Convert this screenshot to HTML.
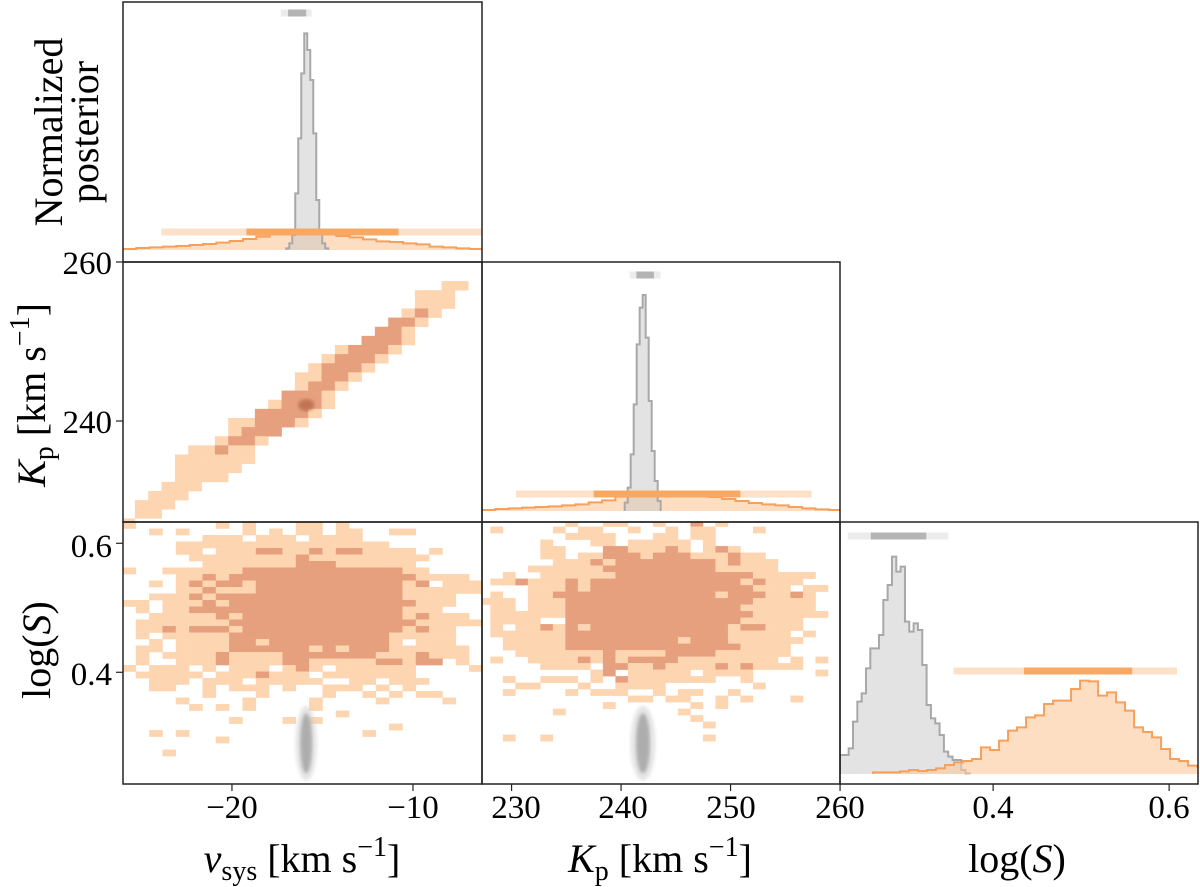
<!DOCTYPE html>
<html><head><meta charset="utf-8"><style>
html,body{margin:0;padding:0;background:#fff;}
svg{display:block;font-family:"Liberation Serif","Times New Roman","DejaVu Serif",serif;}
text,tspan{font-family:"Liberation Serif","Times New Roman","DejaVu Serif",serif !important;}
</style></head><body>
<svg id="c" width="1200" height="887" viewBox="0 0 1200 887" xmlns="http://www.w3.org/2000/svg">
<defs>
<clipPath id="cTL"><rect x="123" y="2" width="359" height="260"/></clipPath>
<clipPath id="cML"><rect x="123" y="262" width="359" height="260"/></clipPath>
<clipPath id="cMM"><rect x="482" y="262" width="358" height="260"/></clipPath>
<clipPath id="cBL"><rect x="123" y="522" width="359" height="262"/></clipPath>
<clipPath id="cBM"><rect x="482" y="522" width="358" height="262"/></clipPath>
<clipPath id="cBR"><rect x="840" y="522" width="358" height="262"/></clipPath>
<filter id="blur"><feGaussianBlur stdDeviation="1.5"/></filter>
</defs>
<g id="layers"></g>
<g font-size="33" fill="#000">
<text x="232" y="818" text-anchor="middle">−20</text>
<text x="413" y="818" text-anchor="middle">−10</text>
<text x="516" y="818" text-anchor="middle">230</text>
<text x="623" y="818" text-anchor="middle">240</text>
<text x="731" y="818" text-anchor="middle">250</text>
<text x="840" y="818" text-anchor="middle">260</text>
<text x="993" y="818" text-anchor="middle">0.4</text>
<text x="1169" y="818" text-anchor="middle">0.6</text>
<text x="112" y="274" text-anchor="end">260</text>
<text x="112" y="433" text-anchor="end">240</text>
<text x="112" y="557" text-anchor="end">0.6</text>
<text x="112" y="685" text-anchor="end">0.4</text>
</g>
<g font-size="40" fill="#000">
<text x="302" y="872" text-anchor="middle"><tspan font-style="italic">v</tspan><tspan font-size="28" dy="8">sys</tspan><tspan dy="-8"> [km s</tspan><tspan font-size="28" dy="-16">−1</tspan><tspan dy="16">]</tspan></text>
<text x="660" y="872" text-anchor="middle"><tspan font-style="italic">K</tspan><tspan font-size="28" dy="8">p</tspan><tspan dy="-8"> [km s</tspan><tspan font-size="28" dy="-16">−1</tspan><tspan dy="16">]</tspan></text>
<text x="1017" y="872" text-anchor="middle">log(<tspan font-style="italic">S</tspan>)</text>
<g transform="translate(62,132) rotate(-90)"><text x="0" y="0" text-anchor="middle">Normalized</text><text x="0" y="36" text-anchor="middle">posterior</text></g>
<text transform="translate(45,395) rotate(-90)" text-anchor="middle"><tspan font-style="italic">K</tspan><tspan font-size="28" dy="8">p</tspan><tspan dy="-8"> [km s</tspan><tspan font-size="28" dy="-16">−1</tspan><tspan dy="16">]</tspan></text>
<text transform="translate(50,650) rotate(-90)" text-anchor="middle">log(<tspan font-style="italic">S</tspan>)</text>
</g>
</svg>
<script>
// ---- data ----
const tlGrayStart = -17.0, tlGrayWidth = 0.1657;
const tlGrayCounts = [5,20,45,170,335,530,650,600,510,350,150,50,20,5];
const tlOrangeStart = -26.02, tlOrangeWidth = 0.7366;
const tlOrangeCounts = [3,6,8,10,12,15,18,22,27,33,40,55,55,57,56,54,42,38,32,26,24,20,17,10,8,5,3];
const mmGrayStart = 240.33, mmGrayWidth = 0.274;
const mmGrayCounts = [25,70,170,320,500,610,648,520,330,180,90,30];
const mmOrangeStart = 227.3, mmOrangeWidth = 1.218;
const mmOrangeCounts = [3,6,8,10,12,14,17,20,26,32,43,52,55,56,55,55,54,42,36,30,24,20,17,12,8,5,3];
const brGrayStart = 0.226, brGrayWidth = 0.00492;
const brGrayCounts = [57,57,77,157,217,242,317,377,377,417,522,567,652,607,622,457,427,452,432,327,207,167,152,117,67,52,42,42,12,2];
const brOrangeStart = 0.2635, brOrangeWidth = 0.01023;
const brOrangeCounts = [5,5,5,8,12,9,12,17,27,35,39,45,80,72,100,130,140,170,176,210,220,220,255,280,278,235,245,215,190,140,126,110,75,45,39,25,22];
// credible intervals [lo95, lo68, hi68, hi95]
const vsysGrayCI = [-17.3, -16.9, -15.9, -15.6];
const vsysOrangeCI = [-23.9, -19.2, -10.8, -5.5];
const kpGrayCI = [240.8, 241.4, 243.0, 243.6];
const kpOrangeCI = [230.4, 237.5, 250.9, 257.4];
const sGrayCI = [0.235, 0.261, 0.324, 0.349];
const sOrangeCI = [0.355, 0.435, 0.558, 0.609];
// 2D hist vsys-Kp (runs: l/d col-range)
const mlColStart = -26.1, mlColWidth = 0.7366, mlRowTop = 257.6, mlRowHeight = 1.148;
const mlRows = ["l24-25","l22-24","l22-24","l21 d22 l23","d20-21 l22","d19-20 l21","d18-20 l21","l16 d17-19 l20","l15 d16-18 l19","l14 d15-17 l18","l13-14 d15-16 l17","l13 d14-15 l16","d12-14 l15","l11 d12-14 l15","d10-13 l14","l8-9 d10-12 l13","l8 d9-11","l7 d8-9 l10","l5-6 d7 l8-9","l4-9","l4-8","l4-7","l3-5","l2-4","l1-3","l1-2","l0"];
// 2D hist vsys-logS
const blColStart = -26.05, blColWidth = 0.7366, blRowTop = 0.633, blRowHeight = 0.01008;
const blRows = [
"l......l.l...ll.l..........","..l.l....l.l.ll.ll..ll.....","......lll.lll.llll.........","....llllllllllllllll.......",
"....ll.llldd"+"lldldd"+"llll.l...",".....lllllllldlllllllll....","......llllllldddllllll.....","l..lllllldddddddddddd"+"ll....",
"....lldldddddddddddddd"+"llll.","..l.ldlddlddddddddddd"+"ld.lll","....lldlllddddddddddd"+"llllll","..llldldddddddddddddd"+"llll..",
"ll.llldldddddddddddddd"+"lll..",".l.lldddddddddddddddd"+"lll...","..llllldlddddddddddddld"+"lll.",".llllllldddddddddddddd"+"lllll.",
".lldldddlddddddddddddldll..",".l.llllldddddddddddd"+"lllll..","..l.lllldd"+"ldddddddddl.lll.",".ll.lllldddddd"+"ldlddd"+"llllll.",
".l.lllldllll"+"ddddddd"+"llldlll.",".l..llldlllldd"+"lllll"+"ddldd.l..","l.lll.l.lll.ldl.llllll....l",".lllll.llldlll.lllllll.....",
"..lll.lll.lllll..ll.lll....","..ll..l.lll.l..lll.l.l.....","......l...l....l..l.l.ll...","....l....l....l....l....l..",
".....l.l.l....l............","................l..........","........l...l.l............","....................l......",
"..l.l.............l........",".......l...................","...........................","...l......................."];
// 2D hist Kp-logS
const bmColStart = 226.92, bmColWidth = 1.142, bmRowTop = 0.636, bmRowHeight = 0.01008;
const bmRows = [
".......l..ll..l..d.l.........",".l....l.ll..l..l.ll...l......",".......llll...ll.ll..........",".....l...ll.lllll.l..........",
".....ll...ddllldl.ldl........",".....ll.lldddldddllldll......","......llldlddddddddldlll.....","....lllllldddddddddlllll.....",
"..l..lllllldddddddddddlllll..",".lldllldlddddddddddddldlll..","....llldlddddddddddddd"+"lll.ll.",".l..lldddddddddddddlddd"+"lldl..",
"lll.llldddddddddddddddlllll..",".ll.llldddddddddddddd"+"llllll..",".lllllldddddddddddddd"+"dllllll.",".llll..dddddddddddddd"+"lllll...",
".l.lldldlddddddddddd"+"lddlll...",".lllllldddddddddddddlllll.l..","..llllldddddddddlddd"+"llllll...","..llllldddddddddddddd"+"llll....",
"...llllllldlllldddd"+"llllll....",".l..lllldldlddddllllllll.l.l.",".....llll.ddlldlllldldllll...",".........ld.lllll.llll.....l.",
"..l..lll.l.dlllllll..l.......","...ll...l..llll.......l......","..l....l.lll..l.ll..l........","............ll.ll..l.l...l...",
"..........l......l.l.........","......l.........l............",".................l...........","..................l..........",
".............................","..l..l............l.........."];
// gray sample cloud centres
const graySampleVsys = -15.9, graySampleKp = 242.0, graySampleS = 0.29;

// ---- scales ----
const vs = v => 123 + (v + 26.02) * 18.1;
const kpx = k => 482 + (k - 227.3) * 10.95;
const kpy = k => 262 + (260 - k) * 7.95;
const sx = s => 840 + (s - 0.226) * 880;
const sy = s => 522 + (0.633 - s) * 645;

const NS = "http://www.w3.org/2000/svg";
const root = document.getElementById('layers');
function el(tag, attrs, parent) {
  const e = document.createElementNS(NS, tag);
  for (const k in attrs) e.setAttribute(k, attrs[k]);
  (parent || root).appendChild(e);
  return e;
}
function group(clip, name) {
  const g = el('g', {'clip-path': 'url(#' + clip + ')'});
  
  
  return g;
}
function hist(g, start, width, counts, xs, base, scale, fill, stroke, name) {
  let d = 'M' + xs(start) + ',' + base;
  counts.forEach((c, i) => {
    const x0 = xs(start + i * width), x1 = xs(start + (i + 1) * width), y = base - c * scale;
    d += ' L' + x0 + ',' + y + ' L' + x1 + ',' + y;
  });
  d += ' L' + xs(start + counts.length * width) + ',' + base;
  const f = el('path', {d: d + ' Z', fill: fill, stroke: 'none'}, g);
  
  
  const s = el('path', {d: d, fill: 'none', stroke: stroke, 'stroke-width': 2}, g);
  
  
}
function ci(g, vals, xs, y, light, dark, name) {
  const a = el('rect', {x: xs(vals[0]), y: y - 3.5, width: xs(vals[3]) - xs(vals[0]), height: 7, fill: light}, g);
  
  
  const b = el('rect', {x: xs(vals[1]), y: y - 3.5, width: xs(vals[2]) - xs(vals[1]), height: 7, fill: dark}, g);
  
  
}
const LC = '#fdd5b1', DC = '#e6a07d';
function cell(g, x0, x1, yA, yB, ch, name) {
  const r = el('rect', {x: Math.min(x0, x1), y: Math.min(yA, yB), width: Math.abs(x1 - x0) + 0.3, height: Math.abs(yB - yA) + 0.3, fill: ch === 'd' ? DC : LC}, g);
  
  
}
function gridStr(g, rows, cs, cw, rt, rh, xs, ys, name) {
  rows.forEach((row, r) => {
    for (let c = 0; c < row.length; c++) {
      const ch = row[c];
      if (ch !== 'l' && ch !== 'd') continue;
      cell(g, xs(cs + c * cw), xs(cs + (c + 1) * cw), ys(rt - r * rh), ys(rt - (r + 1) * rh), ch, name);
    }
  });
}
function gridRuns(g, rows, cs, cw, rt, rh, xs, ys, name) {
  rows.forEach((row, r) => {
    row.split(' ').forEach(seg => {
      const ch = seg[0]; const p = seg.slice(1).split('-').map(Number);
      const a = p[0], b = p.length > 1 ? p[1] : p[0];
      for (let c = a; c <= b; c++) cell(g, xs(cs + c * cw), xs(cs + (c + 1) * cw), ys(rt - r * rh), ys(rt - (r + 1) * rh), ch, name);
    });
  });
}
function cloud(g, cx, cy, rx, ry, name) {
  const a = el('ellipse', {cx: cx, cy: cy, rx: rx * 1.8, ry: ry * 1.25, fill: '#d0d0d0', opacity: 0.55, filter: 'url(#blur)'}, g);
  
  
  const b = el('ellipse', {cx: cx, cy: cy, rx: rx, ry: ry, fill: '#a0a0a0', opacity: 0.8, filter: 'url(#blur)'}, g);
  
  
}

// ---- top-left: vsys 1D ----
let g = group('cTL', 'vsys-posterior-panel');
hist(g, tlOrangeStart, tlOrangeWidth, tlOrangeCounts, vs, 250, 1/3, 'rgba(253,200,155,0.6)', '#f7a05c', 'vsys-orange-hist');
hist(g, tlGrayStart, tlGrayWidth, tlGrayCounts, vs, 250, 1/3, 'rgba(200,200,200,0.5)', '#a8a8a8', 'vsys-gray-hist');
ci(g, vsysOrangeCI, vs, 232, '#fde0c8', '#f9a862', 'vsys-orange-ci');
ci(g, vsysGrayCI, vs, 13, '#ececec', '#b4b4b4', 'vsys-gray-ci');

// ---- middle-left: vsys vs Kp ----
g = group('cML', 'vsys-kp-panel');
gridRuns(g, mlRows, mlColStart, mlColWidth, mlRowTop, mlRowHeight, vs, kpy, 'vsys-kp-cell');
const blob = el('ellipse', {cx: vs(graySampleVsys), cy: kpy(graySampleKp), rx: 8, ry: 6, fill: '#b86a48', opacity: 0.8, filter: 'url(#blur)'}, g);



// ---- middle-middle: Kp 1D ----
g = group('cMM', 'kp-posterior-panel');
hist(g, mmOrangeStart, mmOrangeWidth, mmOrangeCounts, kpx, 511, 1/3, 'rgba(253,200,155,0.6)', '#f7a05c', 'kp-orange-hist');
hist(g, mmGrayStart, mmGrayWidth, mmGrayCounts, kpx, 511, 1/3, 'rgba(200,200,200,0.5)', '#a8a8a8', 'kp-gray-hist');
ci(g, kpOrangeCI, kpx, 494, '#fde0c8', '#f9a862', 'kp-orange-ci');
ci(g, kpGrayCI, kpx, 275, '#ececec', '#b4b4b4', 'kp-gray-ci');

// ---- bottom-left: vsys vs logS ----
g = group('cBL', 'vsys-logs-panel');
gridStr(g, blRows, blColStart, blColWidth, blRowTop, blRowHeight, vs, sy, 'vsys-logs-cell');
cloud(g, vs(graySampleVsys), sy(graySampleS), 6, 30, 'vsys-logs-gray-samples');

// ---- bottom-middle: Kp vs logS ----
g = group('cBM', 'kp-logs-panel');
gridStr(g, bmRows, bmColStart, bmColWidth, bmRowTop, bmRowHeight, kpx, sy, 'kp-logs-cell');
cloud(g, kpx(graySampleKp), sy(graySampleS), 7, 30, 'kp-logs-gray-samples');

// ---- bottom-right: logS 1D ----
g = group('cBR', 'logs-posterior-panel');
hist(g, brGrayStart, brGrayWidth, brGrayCounts, sx, 774, 1/3, 'rgba(200,200,200,0.5)', '#a8a8a8', 'logs-gray-hist');
hist(g, brOrangeStart, brOrangeWidth, brOrangeCounts, sx, 774, 1/3, 'rgba(253,200,155,0.6)', '#f7a05c', 'logs-orange-hist');
ci(g, sOrangeCI, sx, 671, '#fde0c8', '#f9a862', 'logs-orange-ci');
ci(g, sGrayCI, sx, 536, '#ececec', '#b4b4b4', 'logs-gray-ci');

// ---- frames & ticks ----
const frames = [[123,2,359,260,'frame-vsys'],[123,262,359,260,'frame-vsys-kp'],[482,262,358,260,'frame-kp'],[123,522,359,262,'frame-vsys-logs'],[482,522,358,262,'frame-kp-logs'],[840,522,358,262,'frame-logs']];
frames.forEach(f => {
  const r = el('rect', {x: f[0], y: f[1], width: f[2], height: f[3], fill: 'none', stroke: '#222', 'stroke-width': 1.5});
  
  
});
const xt = [vs(-20), vs(-10), kpx(230), kpx(240), kpx(250), kpx(260), sx(0.4), sx(0.6)];
xt.forEach(x => {
  const l = el('line', {x1: x, x2: x, y1: 784, y2: 791, stroke: '#222', 'stroke-width': 1.2});
  
  
});
const yt = [kpy(260), kpy(240), sy(0.6), sy(0.4)];
yt.forEach(y => {
  const l = el('line', {x1: 116, x2: 123, y1: y, y2: y, stroke: '#222', 'stroke-width': 1.2});
  
  
});
</script>
</body></html>
